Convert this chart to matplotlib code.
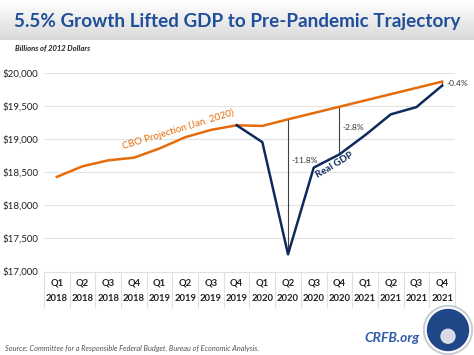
import matplotlib.pyplot as plt
import numpy as np
from matplotlib.patches import Circle

quarters = ['Q1', 'Q2', 'Q3', 'Q4'] * 4
years = ['2018'] * 4 + ['2019'] * 4 + ['2020'] * 4 + ['2021'] * 4
cbo = [18430, 18590, 18680, 18720, 18860, 19030, 19140, 19210,
       19200, 19300, 19395, 19490, 19585, 19680, 19775, 19870]
# real GDP only drawn from Q4 2019
real_idx = [7, 8, 9, 10, 11, 12, 13, 14, 15]
real = [19210, 18955, 17260, 18570, 18770, 19060, 19375, 19485, 19810]
gaps = [(9, '-11.8%'), (11, '-2.8%'), (15, '-0.4%')]

W, H = 474, 355
fig = plt.figure(figsize=(W / 100, H / 100), dpi=100)
plt.rcParams['font.family'] = ['Lato', 'DejaVu Sans']

# title banner with gradient
bg = fig.add_axes([0, 1 - 40 / H, 1, 40 / H])
grad = np.linspace(1.0, 0.85, 100).reshape(-1, 1)
bg.imshow(grad, aspect='auto', cmap='gray', vmin=0, vmax=1, extent=[0, 1, 0, 1])
bg.axis('off')
fig.text(237 / W, 1 - 21 / H, '5.5% Growth Lifted GDP to Pre-Pandemic Trajectory',
         ha='center', va='center', fontsize=13.6, fontweight='bold', color='#1F4E9A')
fig.text(15 / W, 1 - 48 / H, 'Billions of 2012 Dollars', ha='left', va='center',
         fontsize=5.5, fontweight='bold', style='italic', color='#222222')

ax = fig.add_axes([44 / W, 1 - 271.5 / H, (455 - 44) / W, (271.5 - 73) / H])
x = np.arange(len(cbo))
ax.plot(x, cbo, color='#E46C0A', lw=1.8, zorder=3)
ax.plot(real_idx, real, color='#0F2B5E', lw=1.8, zorder=3)

real_map = dict(zip(real_idx, real))
for i, lab in gaps:
    ax.plot([i, i], [cbo[i], real_map[i]], color='#404040', lw=0.8, zorder=2)
ax.text(9.15, 18680, gaps[0][1], fontsize=6, color='#333333', va='center', ha='left')
ax.text(11.1, 19180, gaps[1][1], fontsize=6, color='#333333', va='center', ha='left')
ax.text(15.15, 19835, gaps[2][1], fontsize=6, color='#333333', va='center', ha='left')

ax.text(4.72, 19140, 'CBO Projection (Jan. 2020)', rotation=17, color='#E46C0A',
        fontsize=7, ha='center', va='center')
ax.text(10.8, 18606, 'Real GDP', rotation=31, color='#0F2B5E', fontsize=7,
        ha='center', va='center', fontweight='bold')

ax.set_xlim(-0.5, len(cbo) - 0.5)
ax.set_ylim(17000, 20000)
ax.set_yticks(np.arange(17000, 20001, 500))
ax.set_yticklabels(['${:,}'.format(v) for v in range(17000, 20001, 500)],
                   fontsize=7, color='#222222')
ax.tick_params(axis='y', length=0, pad=4)
ax.grid(axis='y', color='#E3E3E3', lw=0.8)
ax.set_axisbelow(True)

ax.set_xticks(x)
ax.set_xticklabels([q + '\n' + y for q, y in zip(quarters, years)], fontsize=6.8,
                   fontweight='bold', color='#222222', linespacing=2.0)
ax.tick_params(axis='x', which='major', length=0, pad=5)
ax.set_xticks(np.arange(-0.5, len(cbo), 1), minor=True)
ax.tick_params(axis='x', which='minor', length=26, width=0.8, color='#E0E0E0')

for s in ['top', 'right', 'left']:
    ax.spines[s].set_visible(False)
ax.spines['bottom'].set_color('#E0E0E0')

fig.text(5 / W, 1 - 348 / H,
         'Source: Committee for a Responsible Federal Budget, Bureau of Economic Analysis.',
         fontsize=5.3, style='italic', color='#555555', ha='left', va='center')
fig.text(420 / W, 1 - 338 / H, 'CRFB.org', fontsize=10, fontweight='bold',
         style='italic', color='#2F5DA8', ha='right', va='center')

# logo
lg = fig.add_axes([423 / W, 0, 50 / W, 50 / H])
lg.set_xlim(-1, 1)
lg.set_ylim(-1, 1)
lg.set_aspect('equal')
lg.axis('off')
lg.add_patch(Circle((0, 0), 0.98, color='#C8CCD4'))
lg.add_patch(Circle((0, 0), 0.9, color='white'))
lg.add_patch(Circle((0, 0), 0.82, color='#1F4788'))
lg.add_patch(Circle((0, -0.25), 0.28, color='#D8DCE6'))

fig.savefig('out.png', dpi=100)
